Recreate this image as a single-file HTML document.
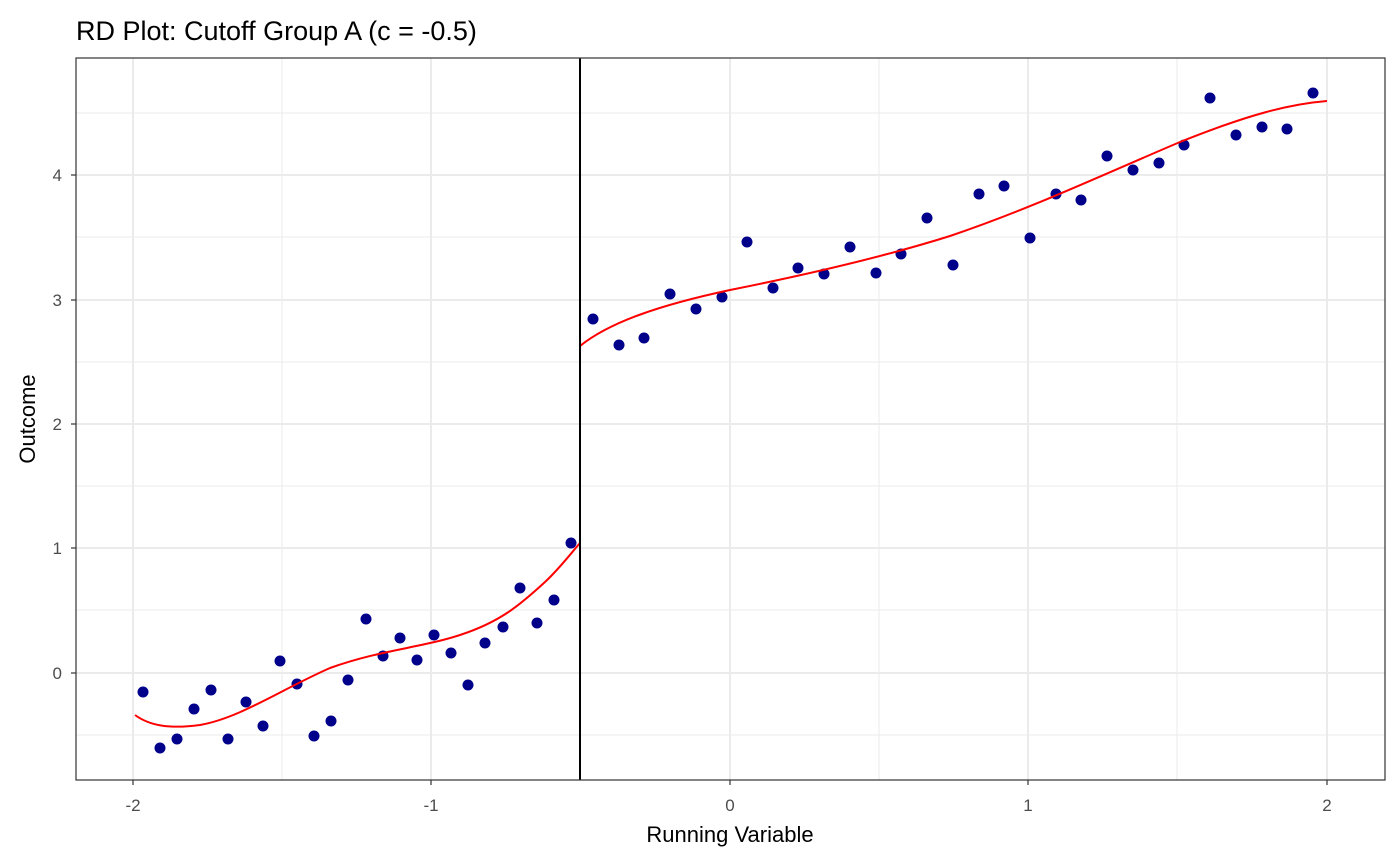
<!DOCTYPE html><html><head><style>body{margin:0;background:#fff}svg{display:block}</style></head><body>
<svg width="1400" height="865" xmlns="http://www.w3.org/2000/svg" font-family="Liberation Sans, sans-serif">
<rect width="1400" height="865" fill="#fff"/>
<g stroke="#ebebeb" stroke-width="1">
<line x1="76" x2="1385" y1="735" y2="735"/><line x1="76" x2="1385" y1="610" y2="610"/><line x1="76" x2="1385" y1="486" y2="486"/><line x1="76" x2="1385" y1="362" y2="362"/><line x1="76" x2="1385" y1="237" y2="237"/><line x1="76" x2="1385" y1="113" y2="113"/>
<line y1="58" y2="780" x1="282" x2="282"/><line y1="58" y2="780" x1="580" x2="580"/><line y1="58" y2="780" x1="879" x2="879"/><line y1="58" y2="780" x1="1177" x2="1177"/>
</g>
<g stroke="#ebebeb" stroke-width="2">
<line x1="76" x2="1385" y1="673" y2="673"/><line x1="76" x2="1385" y1="548" y2="548"/><line x1="76" x2="1385" y1="424" y2="424"/><line x1="76" x2="1385" y1="300" y2="300"/><line x1="76" x2="1385" y1="175" y2="175"/>
<line y1="58" y2="780" x1="133" x2="133"/><line y1="58" y2="780" x1="431" x2="431"/><line y1="58" y2="780" x1="730" x2="730"/><line y1="58" y2="780" x1="1028" x2="1028"/><line y1="58" y2="780" x1="1327" x2="1327"/>
</g>
<g fill="#00008b">
<circle cx="143" cy="692" r="5.5"/><circle cx="160" cy="748" r="5.5"/><circle cx="177" cy="739" r="5.5"/><circle cx="194" cy="709" r="5.5"/><circle cx="211" cy="690" r="5.5"/><circle cx="228" cy="739" r="5.5"/><circle cx="246" cy="702" r="5.5"/><circle cx="263" cy="726" r="5.5"/><circle cx="280" cy="661" r="5.5"/><circle cx="297" cy="684" r="5.5"/><circle cx="314" cy="736" r="5.5"/><circle cx="331" cy="721" r="5.5"/><circle cx="348" cy="680" r="5.5"/><circle cx="366" cy="619" r="5.5"/><circle cx="383" cy="656" r="5.5"/><circle cx="400" cy="638" r="5.5"/><circle cx="417" cy="660" r="5.5"/><circle cx="434" cy="635" r="5.5"/><circle cx="451" cy="653" r="5.5"/><circle cx="468" cy="685" r="5.5"/><circle cx="485" cy="643" r="5.5"/><circle cx="503" cy="627" r="5.5"/><circle cx="520" cy="588" r="5.5"/><circle cx="537" cy="623" r="5.5"/><circle cx="554" cy="600" r="5.5"/><circle cx="571" cy="543" r="5.5"/>
<circle cx="593" cy="319" r="5.5"/><circle cx="619" cy="345" r="5.5"/><circle cx="644" cy="338" r="5.5"/><circle cx="670" cy="294" r="5.5"/><circle cx="696" cy="309" r="5.5"/><circle cx="722" cy="297" r="5.5"/><circle cx="747" cy="242" r="5.5"/><circle cx="773" cy="288" r="5.5"/><circle cx="798" cy="268" r="5.5"/><circle cx="824" cy="274" r="5.5"/><circle cx="850" cy="247" r="5.5"/><circle cx="876" cy="273" r="5.5"/><circle cx="901" cy="254" r="5.5"/><circle cx="927" cy="218" r="5.5"/><circle cx="953" cy="265" r="5.5"/><circle cx="979" cy="194" r="5.5"/><circle cx="1004" cy="186" r="5.5"/><circle cx="1030" cy="238" r="5.5"/><circle cx="1056" cy="194" r="5.5"/><circle cx="1081" cy="200" r="5.5"/><circle cx="1107" cy="156" r="5.5"/><circle cx="1133" cy="170" r="5.5"/><circle cx="1159" cy="163" r="5.5"/><circle cx="1184" cy="145" r="5.5"/><circle cx="1210" cy="98" r="5.5"/><circle cx="1236" cy="135" r="5.5"/><circle cx="1262" cy="127" r="5.5"/><circle cx="1287" cy="129" r="5.5"/><circle cx="1313" cy="93" r="5.5"/>
</g>
<g fill="none" stroke="#ff0000" stroke-width="2">
<path d="M135,715 C150,726 170,729 200,725 C240,718 280,690 330,668 C380,650 420,648 460,635 C500,622 520,605 545,582 C560,568 572,552 580,543"/>
<path d="M580,346 C610,322 660,305 730,290 C800,276 880,258 950,236 C1030,209 1100,176 1180,142 C1250,114 1290,104 1327,101"/>
</g>
<line x1="580" x2="580" y1="58" y2="780" stroke="#000" stroke-width="2"/>
<rect x="76" y="58" width="1309" height="722" fill="none" stroke="#333" stroke-width="1.2"/>
<g stroke="#333" stroke-width="1.2">
<line x1="71" x2="76" y1="673" y2="673"/><line x1="71" x2="76" y1="548" y2="548"/><line x1="71" x2="76" y1="424" y2="424"/><line x1="71" x2="76" y1="300" y2="300"/><line x1="71" x2="76" y1="175" y2="175"/>
<line y1="780" y2="785" x1="133" x2="133"/><line y1="780" y2="785" x1="431" x2="431"/><line y1="780" y2="785" x1="730" x2="730"/><line y1="780" y2="785" x1="1028" x2="1028"/><line y1="780" y2="785" x1="1327" x2="1327"/>
</g>
<g fill="#4d4d4d" font-size="17" text-anchor="end">
<text x="62" y="679">0</text><text x="62" y="554">1</text><text x="62" y="430">2</text><text x="62" y="306">3</text><text x="62" y="181">4</text>
</g>
<g fill="#4d4d4d" font-size="17" text-anchor="middle">
<text x="133" y="811">-2</text><text x="431" y="811">-1</text><text x="730" y="811">0</text><text x="1028" y="811">1</text><text x="1327" y="811">2</text>
</g>
<text x="730" y="842" text-anchor="middle" font-size="22">Running Variable</text>
<text transform="translate(35,419) rotate(-90)" text-anchor="middle" font-size="22">Outcome</text>
<text x="76" y="40" font-size="27">RD Plot: Cutoff Group A (c = -0.5)</text>
</svg></body></html>
